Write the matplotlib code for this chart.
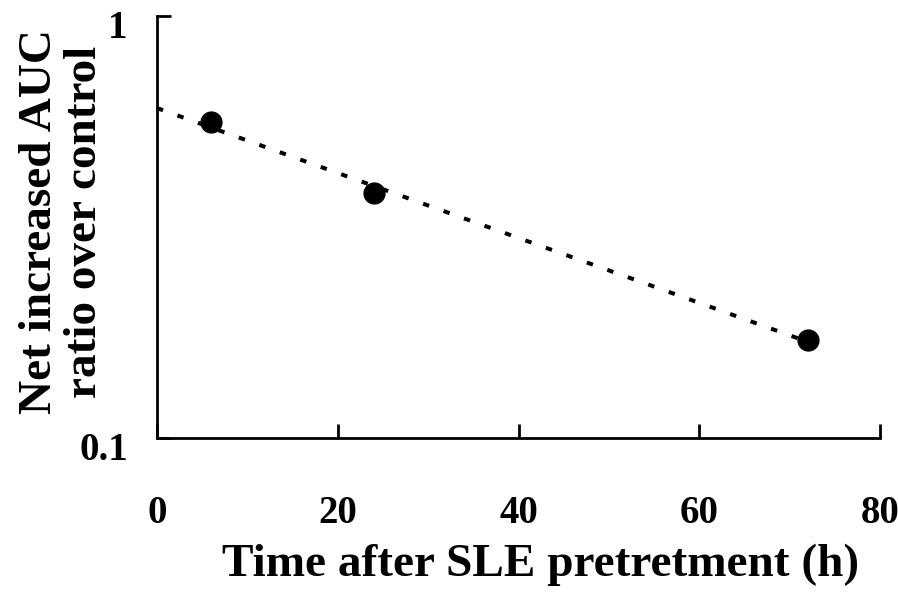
import matplotlib
matplotlib.use("Agg")
import matplotlib.pyplot as plt
import matplotlib.transforms as mtransforms

# measured points
time_h = [6, 24, 72]
auc_ratio = [0.562, 0.381, 0.171]

# trend line endpoints
trend_x = [0, 72]
trend_y = [0.605, 0.169]

x_ticks = [0, 20, 40, 60, 80]
y_ticks = [0.1, 1]
y_tick_labels = ["0.1", "1"]

plt.rcParams['font.family'] = ['Liberation Serif', 'DejaVu Serif']
plt.rcParams['font.weight'] = 'bold'

fig = plt.figure(figsize=(8.98, 5.99), dpi=100)
ax = fig.add_axes([0.1748, 0.2688, 0.8052, 0.7045])

ax.plot(trend_x, trend_y, color='black', linewidth=2.9, dashes=(1.6, 3.8))
ax.plot(time_h, auc_ratio, 'o', color='black', markersize=15)

ax.set_yscale('log')
ax.set_xlim(0, 80)
ax.set_ylim(0.1, 1)
ax.set_xticks(x_ticks)
ax.set_yticks(y_ticks)
ax.set_yticklabels(y_tick_labels)
ax.yaxis.set_minor_locator(matplotlib.ticker.NullLocator())

for side in ['top', 'right']:
    ax.spines[side].set_visible(False)
for side in ['left', 'bottom']:
    ax.spines[side].set_linewidth(2)

ax.tick_params(direction='in', length=10, width=2, labelsize=28)
ax.tick_params(axis='x', pad=41)
ax.tick_params(axis='y', pad=21)

# y tick labels sit a little below their ticks in the original
shift = mtransforms.ScaledTranslation(0, -6 / 72, fig.dpi_scale_trans)
for lab in ax.get_yticklabels():
    lab.set_transform(lab.get_transform() + shift)

ax.set_xlabel('Time after SLE pretretment (h)', fontsize=34, fontweight='bold')
ax.xaxis.set_label_coords(0.53, -0.25)
ax.set_ylabel('Net increased AUC\nratio over control', fontsize=34, fontweight='bold',
              linespacing=1.08)
ax.yaxis.set_label_coords(-0.071, 0.513)

fig.savefig('out.png', dpi=100)
